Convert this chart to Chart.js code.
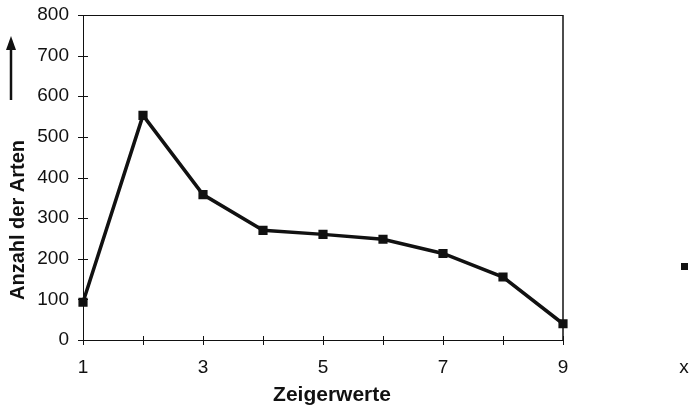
<!DOCTYPE html>
<html>
<head>
<meta charset="utf-8">
<script src="https://cdn.jsdelivr.net/npm/chart.js@4.4.1/dist/chart.umd.min.js"></script>
<style>
  html, body { margin: 0; padding: 0; background: #fff; }
  #wrap { width: 691px; height: 408px; }
</style>
</head>
<body>
<div id="wrap"><canvas id="grafico"></canvas></div>
<script>
const zeigerwerte = [1, 2, 3, 4, 5, 6, 7, 8, 9];
const anzahlArten = [93, 553, 358, 270, 260, 248, 213, 155, 40];
const xTicks = [1, 3, 5, 7, 9];
const yTicks = [0, 100, 200, 300, 400, 500, 600, 700, 800];

const schrift = "'Liberation Sans', Arial, sans-serif";

// Rahmen, Kreuz-Ticks, Achsentitel und Pfeil
const extras = {
  id: "extras",
  afterDraw(chart) {
    const c = chart.ctx;
    const a = chart.chartArea;
    const xs = chart.scales.x;
    const ys = chart.scales.y;
    c.save();
    c.strokeStyle = "#111";
    c.lineWidth = 1;
    c.beginPath();
    c.moveTo(a.left, a.top + 0.5);
    c.lineTo(a.right, a.top + 0.5);
    c.stroke();
    c.lineWidth = 1.5;
    c.beginPath();
    c.moveTo(a.right, a.top);
    c.lineTo(a.right, a.bottom);
    c.stroke();

    c.lineWidth = 1;
    zeigerwerte.forEach(v => {
      const px = Math.round(xs.getPixelForValue(v)) + 0.5;
      c.beginPath();
      c.moveTo(px, a.bottom - 4);
      c.lineTo(px, a.bottom + 5);
      c.stroke();
    });
    yTicks.forEach(v => {
      const py = Math.round(ys.getPixelForValue(v)) + 0.5;
      c.beginPath();
      c.moveTo(a.left - 5, py);
      c.lineTo(a.left + 5, py);
      c.stroke();
    });

    c.fillStyle = "#111";
    c.textAlign = "center";
    c.textBaseline = "middle";
    c.font = "bold 21px " + schrift;
    c.fillText("Zeigerwerte", 332, 395);

    c.save();
    c.font = "bold 20px " + schrift;
    c.translate(18, 220);
    c.rotate(-Math.PI / 2);
    c.fillText("Anzahl der Arten", 0, 0);
    c.restore();

    // Pfeil
    c.lineWidth = 2.5;
    c.beginPath();
    c.moveTo(11, 100);
    c.lineTo(11, 48);
    c.stroke();
    c.beginPath();
    c.moveTo(11, 36);
    c.lineTo(6, 50);
    c.lineTo(16, 50);
    c.closePath();
    c.fill();

    // Legendenrest rechts
    c.fillRect(681, 263, 7, 7);
    c.font = "19px " + schrift;
    c.fillText("x", 684, 368);
    c.restore();
  }
};

new Chart(document.getElementById("grafico"), {
  type: "line",
  data: {
    datasets: [{
      label: "Arten",
      data: zeigerwerte.map((x, i) => ({ x: x, y: anzahlArten[i] })),
      borderColor: "#111",
      backgroundColor: "#111",
      borderWidth: 3.5,
      pointStyle: "rect",
      pointRadius: 4,
      pointHoverRadius: 4,
      tension: 0,
      clip: false
    }]
  },
  options: {
    responsive: true,
    maintainAspectRatio: false,
    animation: false,
    layout: { padding: { left: 0, right: 128, top: 15, bottom: 0 } },
    plugins: {
      legend: { display: false },
      tooltip: { enabled: false }
    },
    scales: {
      x: {
        type: "linear",
        min: 1,
        max: 9,
        afterFit: s => { s.height = 68; s.paddingLeft = 0; s.paddingRight = 0; },
        afterBuildTicks: s => { s.ticks = zeigerwerte.map(v => ({ value: v })); },
        ticks: {
          autoSkip: false,
          maxRotation: 0,
          padding: 16,
          color: "#111",
          font: { family: schrift, size: 19 },
          callback: v => xTicks.includes(v) ? String(v) : ""
        },
        grid: { display: true, drawOnChartArea: false, drawTicks: false },
        border: { display: true, color: "#111", width: 1 }
      },
      y: {
        min: 0,
        max: 800,
        afterFit: s => { s.width = 83; s.paddingTop = 0; s.paddingBottom = 0; },
        afterBuildTicks: s => { s.ticks = yTicks.map(v => ({ value: v })); },
        ticks: {
          padding: 14,
          color: "#111",
          font: { family: schrift, size: 19 }
        },
        grid: { display: true, drawOnChartArea: false, drawTicks: false },
        border: { display: true, color: "#111", width: 1 }
      }
    }
  },
  plugins: [extras]
});
</script>
</body>
</html>
